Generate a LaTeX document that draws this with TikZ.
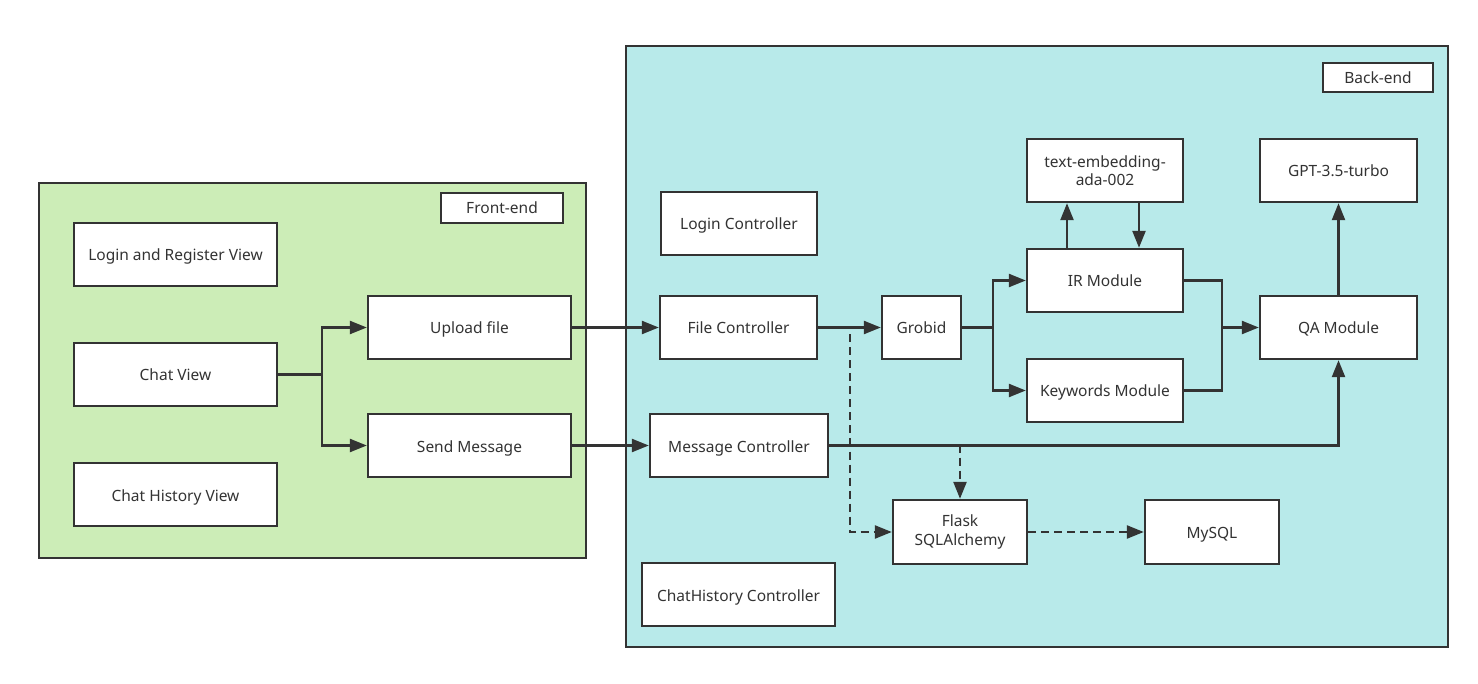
\documentclass[tikz,border=0pt]{standalone}
\usepackage{fontspec}
\setmainfont{Noto Sans}
\usetikzlibrary{arrows.meta}
\definecolor{frontgreen}{HTML}{CCEDB7}
\definecolor{backcyan}{HTML}{B8EAEA}
\definecolor{ink}{HTML}{333333}
\begin{document}
\begin{tikzpicture}[x=1pt,y=-1pt,
  every node/.style={font=\fontsize{15.5}{18.5}\selectfont, text=ink},
  box/.style={draw=ink, line width=2.4pt, fill=white, inner sep=0pt, minimum height=63pt, align=center},
  one/.style={text height=13pt, text depth=0pt},
  frame/.style={draw=ink, line width=2.4pt, inner sep=0pt},
  lbl/.style={draw=ink, line width=2.4pt, fill=white, inner sep=0pt, text height=12pt, text depth=0pt},
  arr/.style={draw=ink, line width=2.4pt, -{Triangle[length=17pt,width=13pt]}},
  line/.style={draw=ink, line width=2.4pt},
  darr/.style={draw=ink, line width=2.4pt, dash pattern=on 8pt off 5pt, -{Triangle[length=17pt,width=13pt]}}]
\useasboundingbox[fill=white] (0,0) rectangle (1478,684);
% frames
\node[frame, fill=frontgreen, minimum width=547pt, minimum height=375pt] (front) at (312.5,370.5) {};
\node[lbl, minimum width=122pt, minimum height=30pt] (frontlbl) at (502,208) {Front-end};
\node[frame, fill=backcyan, minimum width=822pt, minimum height=601pt] (back) at (1037,346.5) {};
\node[lbl, minimum width=110pt, minimum height=29pt] (backlbl) at (1378,77.5) {Back-end};
% front-end nodes
\node[box, one, minimum width=203pt] (login) at (175.5,254.5) {Login and Register View};
\node[box, one, minimum width=203pt] (chat) at (175.5,374.5) {Chat View};
\node[box, one, minimum width=203pt] (hist) at (175.5,494.5) {Chat History View};
\node[box, one, minimum width=203pt] (upload) at (469.5,327.5) {Upload file};
\node[box, one, minimum width=203pt] (send) at (469.5,445.5) {Send Message};
% back-end nodes
\node[box, one, minimum width=156pt] (loginc) at (739,223.5) {Login Controller};
\node[box, one, minimum width=157pt] (filec) at (738.5,327.5) {File Controller};
\node[box, one, minimum width=178pt] (msgc) at (739,445.5) {Message Controller};
\node[box, one, minimum width=193pt] (histc) at (738.5,594.5) {ChatHistory Controller};
\node[box, one, minimum width=79pt] (grobid) at (921.5,327.5) {Grobid};
\node[box, minimum width=156pt] (emb) at (1105,170.5) {text-embedding-\\ada-002};
\node[box, one, minimum width=156pt] (ir) at (1105,280.5) {IR Module};
\node[box, one, minimum width=156pt] (kw) at (1105,390.5) {Keywords Module};
\node[box, one, minimum width=157pt] (gpt) at (1338.5,170.5) {GPT-3.5-turbo};
\node[box, one, minimum width=157pt] (qa) at (1338.5,327.5) {QA Module};
\node[box, minimum width=134pt, minimum height=64pt] (flask) at (960,532) {Flask\\SQLAlchemy};
\node[box, one, minimum width=134pt, minimum height=64pt] (mysql) at (1212,532) {MySQL};
% connectors
\coordinate (split) at (322,374.5);
\draw[line] (chat.east) -- (split);
\draw[arr] (split) |- (upload.west);
\draw[arr] (split) |- (send.west);
\draw[arr] (upload.east) -- (filec.west);
\draw[arr] (send.east) -- (msgc.west);
\draw[darr] (filec.east) -- ++(32,0) |- (flask.west);
\draw[darr] (msgc.east) -| (flask.north);
\draw[arr] (filec.east) -- (grobid.west);
\draw[arr] (msgc.east) -| (qa.south);
\draw[darr] (flask.east) -- (mysql.west);
\coordinate (gsplit) at (993,327.5);
\draw[line] (grobid.east) -- (gsplit);
\draw[arr] (gsplit) |- (ir.west);
\draw[arr] (gsplit) |- (kw.west);
\draw[arr] ([xshift=-38pt]ir.north) -- ([xshift=-38pt]emb.south);
\draw[arr] ([xshift=34pt]emb.south) -- ([xshift=34pt]ir.north);
\coordinate (join) at (1222,327.5);
\draw[line] (ir.east) -| (join);
\draw[line] (kw.east) -| (join);
\draw[arr] (join) -- (qa.west);
\draw[arr] (qa.north) -- (gpt.south);
\end{tikzpicture}
\end{document}
